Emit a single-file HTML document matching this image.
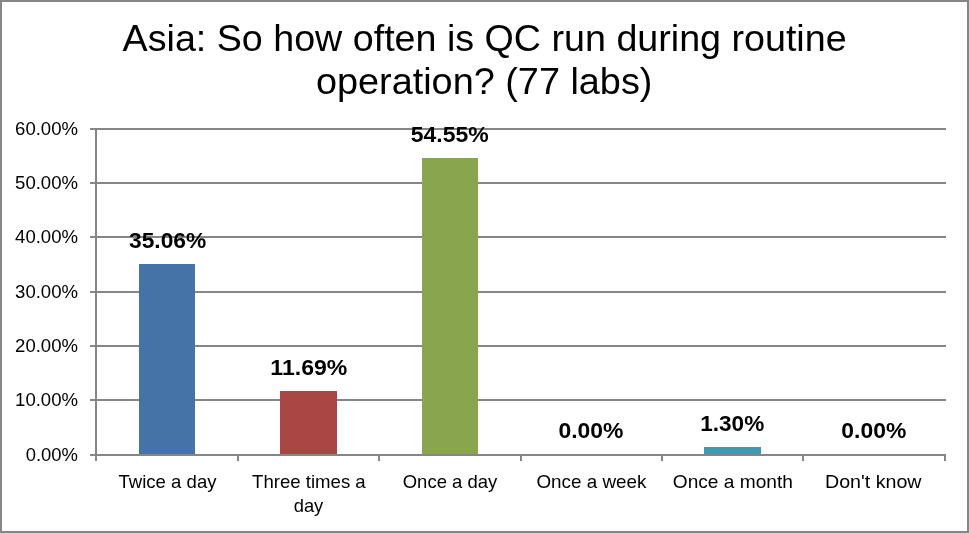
<!DOCTYPE html>
<html><head><meta charset="utf-8"><title>Asia: QC frequency</title>
<style>
html,body{margin:0;padding:0;background:#fff;}
body{width:969px;height:533px;overflow:hidden;}
svg{display:block;}
text{font-family:"Liberation Sans",sans-serif;fill:#000;}
.t{font-size:37.33px;text-anchor:middle;}
.y{font-size:18.4px;text-anchor:end;}
.x{font-size:18.4px;text-anchor:middle;}
.d{font-size:21.6px;font-weight:bold;text-anchor:middle;}
</style></head><body>
<svg width="969" height="533" viewBox="0 0 969 533">
<rect x="0" y="0" width="969" height="533" fill="#fff"/>
<rect x="1" y="1" width="967" height="531" fill="none" stroke="#868686" stroke-width="2"/>
<text class="t" x="484.6" y="50.8" textLength="724" lengthAdjust="spacingAndGlyphs">Asia: So how often is QC run during routine</text>
<text class="t" x="484.2" y="94.2" textLength="336.5" lengthAdjust="spacingAndGlyphs">operation? (77 labs)</text>
<rect x="90" y="454" width="856" height="2" fill="#868686"/>
<text class="y" x="78.0" y="460.5" textLength="52.3" lengthAdjust="spacingAndGlyphs">0.00%</text>
<rect x="90" y="399" width="856" height="2" fill="#868686"/>
<text class="y" x="78.0" y="405.5" textLength="62.9" lengthAdjust="spacingAndGlyphs">10.00%</text>
<rect x="90" y="345" width="856" height="2" fill="#868686"/>
<text class="y" x="78.0" y="351.5" textLength="62.9" lengthAdjust="spacingAndGlyphs">20.00%</text>
<rect x="90" y="291" width="856" height="2" fill="#868686"/>
<text class="y" x="78.0" y="297.5" textLength="62.9" lengthAdjust="spacingAndGlyphs">30.00%</text>
<rect x="90" y="236" width="856" height="2" fill="#868686"/>
<text class="y" x="78.0" y="242.5" textLength="62.9" lengthAdjust="spacingAndGlyphs">40.00%</text>
<rect x="90" y="182" width="856" height="2" fill="#868686"/>
<text class="y" x="78.0" y="188.5" textLength="62.9" lengthAdjust="spacingAndGlyphs">50.00%</text>
<rect x="90" y="128" width="856" height="2" fill="#868686"/>
<text class="y" x="78.0" y="134.5" textLength="62.9" lengthAdjust="spacingAndGlyphs">60.00%</text>
<rect x="95" y="128" width="2" height="333" fill="#868686"/>
<rect x="237" y="455" width="2" height="6" fill="#868686"/>
<rect x="378" y="455" width="2" height="6" fill="#868686"/>
<rect x="520" y="455" width="2" height="6" fill="#868686"/>
<rect x="661" y="455" width="2" height="6" fill="#868686"/>
<rect x="802" y="455" width="2" height="6" fill="#868686"/>
<rect x="944" y="455" width="2" height="6" fill="#868686"/>
<rect x="139" y="264" width="56" height="190" fill="#4572A7"/>
<text class="d" x="167.65" y="247.8" textLength="77.2" lengthAdjust="spacingAndGlyphs">35.06%</text>
<text class="x" x="167.5" y="487.8" textLength="98.0" lengthAdjust="spacingAndGlyphs">Twice a day</text>
<rect x="280" y="391" width="57" height="63" fill="#AA4643"/>
<text class="d" x="308.85" y="374.9" textLength="77.0" lengthAdjust="spacingAndGlyphs">11.69%</text>
<text class="x" x="308.9" y="487.8" textLength="113.6" lengthAdjust="spacingAndGlyphs">Three times a</text>
<text class="x" x="308.5" y="512.2" textLength="29.6" lengthAdjust="spacingAndGlyphs">day</text>
<rect x="422" y="158" width="56" height="296" fill="#89A54E"/>
<text class="d" x="449.8" y="141.7" textLength="78.0" lengthAdjust="spacingAndGlyphs">54.55%</text>
<text class="x" x="450.0" y="487.8" textLength="94.5" lengthAdjust="spacingAndGlyphs">Once a day</text>
<text class="d" x="591.0" y="438.2" textLength="65.0" lengthAdjust="spacingAndGlyphs">0.00%</text>
<text class="x" x="591.45" y="487.8" textLength="110" lengthAdjust="spacingAndGlyphs">Once a week</text>
<rect x="704" y="447" width="57" height="7" fill="#4198AF"/>
<text class="d" x="732.25" y="431.3" textLength="64.0" lengthAdjust="spacingAndGlyphs">1.30%</text>
<text class="x" x="732.85" y="487.8" textLength="120.2" lengthAdjust="spacingAndGlyphs">Once a month</text>
<text class="d" x="873.85" y="438.2" textLength="65.0" lengthAdjust="spacingAndGlyphs">0.00%</text>
<text class="x" x="873.25" y="487.8" textLength="96.6" lengthAdjust="spacingAndGlyphs">Don't know</text>
</svg>
</body></html>
